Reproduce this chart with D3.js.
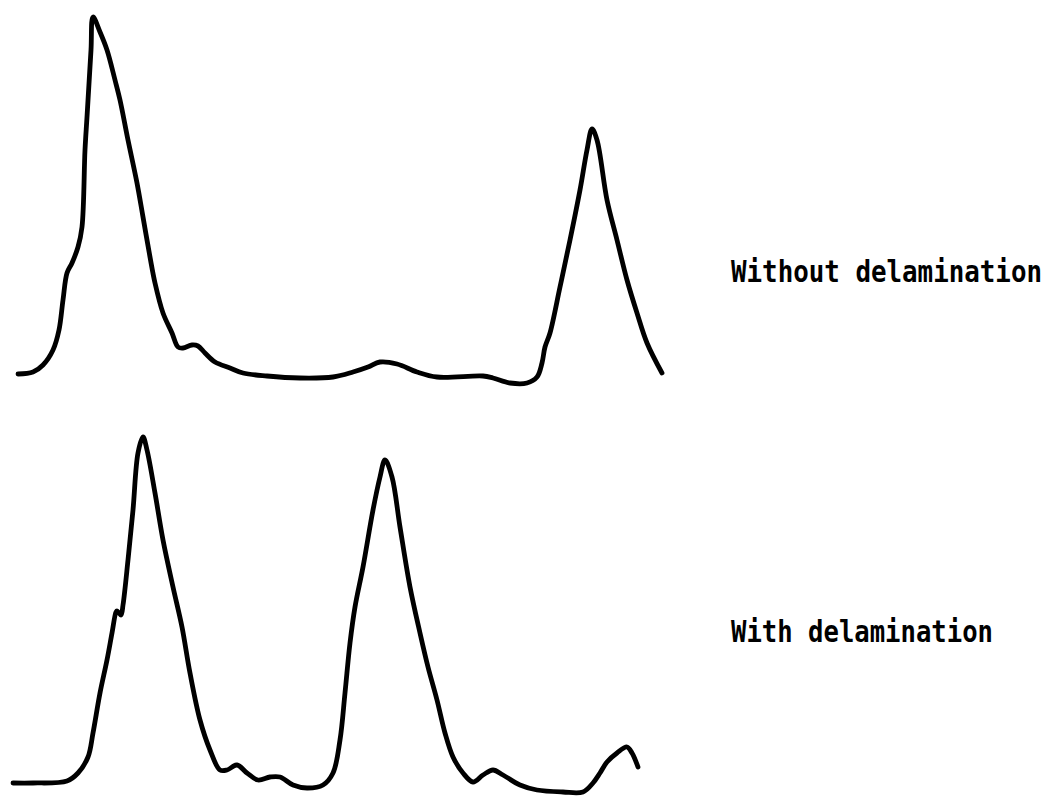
<!DOCTYPE html>
<html>
<head>
<meta charset="utf-8">
<script src="https://cdn.jsdelivr.net/npm/d3@7"></script>
<style>
  html, body { margin: 0; padding: 0; background: #fff; }
  svg { display: block; }
</style>
</head>
<body>
<svg id="chart" width="1051" height="796"></svg>
<script>
// Scan traces: position along the specimen vs. signal amplitude (arbitrary units)
const labels = ["Without delamination", "With delamination"];

const topPos = [8, 23, 33, 43, 49, 53, 57, 62, 68, 72, 75, 77, 81, 83, 90, 97, 105, 110, 118, 127, 133, 140, 145, 153, 162, 168, 173, 182, 188, 195, 205, 220, 233, 257, 290, 323, 343, 358, 370, 387, 407, 427, 473, 483, 500, 517, 527, 532, 535, 540, 550, 560, 570, 577, 582, 587, 597, 607, 617, 627, 637, 652];
const topSig = [11, 13, 20, 35, 55, 85, 112, 122, 138, 158, 235, 268, 335, 368, 353, 335, 305, 285, 245, 202, 168, 128, 102, 72, 52, 38, 37, 40, 39, 32, 23, 17, 12, 9, 7, 8, 13, 18, 23, 21, 13, 8, 9, 7, 2, 2, 8, 22, 38, 52, 98, 145, 195, 235, 256, 245, 185, 145, 105, 72, 42, 12];

const botPos = [3, 23, 57, 68, 78, 83, 90, 97, 102, 106, 107, 111, 113, 118, 123, 128, 133, 137, 145, 153, 163, 172, 180, 190, 200, 210, 217, 227, 237, 248, 260, 270, 283, 297, 313, 323, 330, 335, 340, 345, 353, 363, 370, 375, 382, 390, 400, 410, 418, 427, 435, 443, 453, 463, 473, 483, 493, 510, 527, 553, 573, 583, 590, 597, 607, 617, 622, 628];
const botSig = [12, 12, 14, 22, 38, 62, 102, 135, 162, 183, 184, 180, 190, 235, 285, 342, 358, 345, 302, 255, 208, 168, 122, 75, 45, 25, 25, 30, 22, 15, 18, 18, 10, 7, 10, 22, 55, 102, 152, 188, 228, 285, 318, 335, 318, 268, 208, 162, 128, 95, 62, 38, 22, 13, 20, 25, 20, 10, 5, 3, 3, 12, 22, 33, 42, 48, 42, 28];

const svg = d3.select("#chart");

const x = d3.scaleLinear().domain([0, 660]).range([10, 670]);
const yTop = d3.scaleLinear().domain([0, 370]).range([385, 15]);
const yBot = d3.scaleLinear().domain([0, 360]).range([795, 435]);

const traces = [
  { pos: topPos, sig: topSig, y: yTop, label: labels[0], labelY: 282, labelW: 311 },
  { pos: botPos, sig: botSig, y: yBot, label: labels[1], labelY: 642, labelW: 262 }
];

traces.forEach(t => {
  const pts = t.pos.map((p, i) => [p, t.sig[i]]);
  const line = d3.line()
    .x(d => x(d[0]))
    .y(d => t.y(d[1]))
    .curve(d3.curveCatmullRom.alpha(0.5));

  svg.append("path")
    .datum(pts)
    .attr("d", line)
    .attr("fill", "none")
    .attr("stroke", "#000")
    .attr("stroke-width", 4.8)
    .attr("stroke-linejoin", "round")
    .attr("stroke-linecap", "round");

  // Tall, heavy monospace label to the right of each trace
  svg.append("text")
    .attr("transform", `translate(731,${t.labelY}) scale(1,1.16)`)
    .attr("font-family", "'DejaVu Sans Mono', 'Liberation Mono', monospace")
    .attr("font-weight", "bold")
    .attr("font-size", 25.8)
    .attr("textLength", t.labelW)
    .attr("lengthAdjust", "spacingAndGlyphs")
    .attr("fill", "#000")
    .text(t.label);
});
</script>
</body>
</html>
